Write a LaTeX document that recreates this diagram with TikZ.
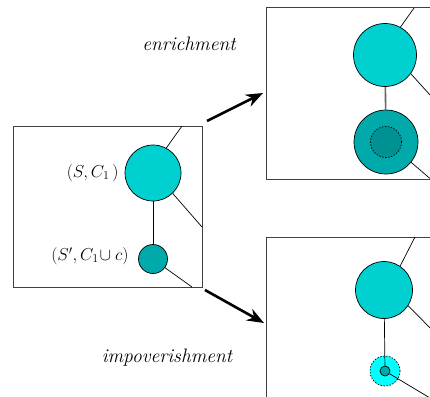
\documentclass[tikz,border=0pt]{standalone}
\usepackage{amsmath}
\usepackage{amssymb}
\usetikzlibrary{arrows.meta}

\definecolor{cycan}{HTML}{00D0D0}
\definecolor{cyteal}{HTML}{00AAAA}
\definecolor{cydeep}{HTML}{009292}
\definecolor{cylight}{HTML}{00FFFF}
\definecolor{boxgrey}{HTML}{404040}

\tikzset{
  frame/.style={draw=boxgrey, line width=1pt},
  state/.style={circle, draw, line width=0.7pt, inner sep=0pt},
  link/.style={line width=0.7pt},
  bigarrow/.style={line width=2.6pt, -{Stealth[length=17pt,width=13pt]}},
  lab/.style={font=\fontsize{19.5}{23}\selectfont\itshape},
  statelab/.style={font=\fontsize{17}{20}\selectfont, anchor=east}
}

\begin{document}
\begin{tikzpicture}[x=1pt, y=-1pt]
    \clip (0,0) rectangle (430,396);
    \fill[white] (0,0) rectangle (430,396);

    % Left box: the start situation
    \draw[frame] (13,126) rectangle (202,287);
    \node[state, fill=cycan, minimum size=56pt] (A) at (153,173) {};
    \node[state, fill=cyteal, minimum size=29pt] (B) at (153,259) {};
    \coordinate (a1) at (182,126);
    \coordinate (a2) at (202,227);
    \coordinate (b1) at (192,287);
    \draw[link] (A) -- (B);
    \draw[link] (A.62) -- (a1);
    \draw[link] (A.-46) -- (a2);
    \draw[link] (B.-36) -- (b1);
    \node[statelab] (labA) at (122,173) {$(S,C_1\,)$};
    \node[statelab] (labB) at (132,256) {$(S',C_1\!\cup c)$};

    % Upper right box: enrichment
    \draw[frame] (266,8) rectangle (470,179);
    \node[state, fill=cycan, minimum size=63pt] (C) at (385,55) {};
    \node[state, fill=cyteal, minimum size=64pt] (D) at (386,142) {};
    \node[state, fill=cydeep, dashed, dash pattern=on 1.5pt off 1.5pt, minimum size=31pt] (Din) at (386,142) {};
    \coordinate (c1) at (414,8);
    \coordinate (c2) at (440,106);
    \coordinate (d1) at (440,187);
    \draw[line width=1.6pt, draw=gray!80!black] (C) -- (D);
    \draw[link] (C.61) -- (c1);
    \draw[link] (C.-36) -- (c2);
    \draw[link] (D.-39) -- (d1);
    \node[lab] (enr) at (189,44) {enrichment};

    % Lower right box: impoverishment
    \draw[frame] (266,237) rectangle (470,420);
    \node[state, fill=cycan, minimum size=57pt] (E) at (384,290) {};
    \node[state, fill=cylight, dashed, dash pattern=on 1.5pt off 1.5pt, minimum size=30pt] (F) at (385,371) {};
    \node[state, fill=cyteal, minimum size=10pt] (G) at (385,371) {};
    \coordinate (e1) at (415,237);
    \coordinate (e2) at (440,338);
    \coordinate (g1) at (440,404);
    \draw[link] (E) -- (G);
    \draw[link] (E.56) -- (e1);
    \draw[link] (E.-33) -- (e2);
    \draw[link] (G.-31) -- (g1);
    \node[lab] (imp) at (167,358) {impoverishment};

    % Arrows
    \coordinate (p1) at (207,121);
    \coordinate (q1) at (263,93);
    \coordinate (p2) at (205,290);
    \coordinate (q2) at (264,323);
    \draw[bigarrow] (p1) -- (q1);
    \draw[bigarrow] (p2) -- (q2);
\end{tikzpicture}
\end{document}
